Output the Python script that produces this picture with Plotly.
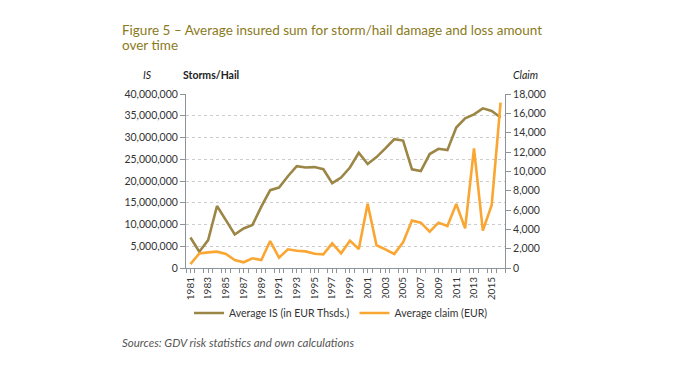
import plotly.graph_objects as go

years = list(range(1981, 2017))
avg_is = [7.0e6, 3.75e6, 6.4e6, 14.25e6, 11.0e6, 7.7e6, 9.1e6, 9.9e6, 14.1e6, 17.9e6,
          18.5e6, 21.1e6, 23.4e6, 23.1e6, 23.2e6, 22.7e6, 19.5e6, 20.8e6, 23.1e6, 26.5e6,
          23.9e6, 25.5e6, 27.5e6, 29.6e6, 29.3e6, 22.7e6, 22.3e6, 26.2e6, 27.4e6, 27.1e6,
          32.3e6, 34.4e6, 35.3e6, 36.7e6, 36.1e6, 34.6e6]
avg_claim = [400, 1500, 1620, 1690, 1450, 830, 590, 1000, 830, 2790,
             1070, 1930, 1790, 1720, 1480, 1410, 2550, 1520, 2830, 1970,
             6650, 2350, 1930, 1450, 2660, 4900, 4690, 3760, 4690, 4340,
             6620, 4100, 12380, 3860, 6520, 17100]
odd_years = [y for y in years if y % 2 == 1]
left_ticks = list(range(0, 40000001, 5000000))
right_ticks = list(range(0, 18001, 2000))

BROWN = "#9C8646"
ORANGE = "#F9A632"
FONT = "Lato, 'Open Sans', sans-serif"
AX = "#8C9399"

fig = go.Figure()
fig.add_trace(go.Scatter(x=years, y=avg_is, mode="lines", name="Average IS (in EUR Thsds.)",
                         line=dict(color=BROWN, width=2.6), yaxis="y"))
fig.add_trace(go.Scatter(x=years, y=avg_claim, mode="lines", name="Average claim (EUR)",
                         line=dict(color=ORANGE, width=2.6), yaxis="y2"))

# page has an 8px body margin; figure sized to fill the rest of the window
fig.update_layout(
    width=666, height=372,
    margin=dict(l=178, r=169, t=86, b=112),
    paper_bgcolor="white", plot_bgcolor="white",
    font=dict(family=FONT, size=10, color="#333333"),
    showlegend=True,
    legend=dict(orientation="h", x=0.486, xanchor="center", y=-0.175, yanchor="top",
                font=dict(size=10.5, color="#333333"), itemwidth=30, tracegroupgap=0),
    xaxis=dict(range=[1980.5, 2016.5], tickvals=odd_years, ticktext=[str(y) for y in odd_years],
               tickangle=-90, showgrid=False, showline=True, linecolor=AX, linewidth=1,
               ticks="outside", ticklen=4, tickcolor=AX,
               minor=dict(tickvals=[y + 0.5 for y in range(1980, 2017)], ticks="outside",
                          ticklen=4, tickcolor=AX),
               tickfont=dict(size=10), zeroline=False, automargin=False),
    yaxis=dict(range=[0, 40000000], tickvals=left_ticks, tickformat=",", showgrid=True,
               gridcolor="#CCCCCC", griddash="dot", showline=True, linecolor=AX,
               ticks="outside", ticklen=5, tickcolor=AX, zeroline=False,
               tickfont=dict(size=10.5), automargin=False),
    yaxis2=dict(range=[0, 18000], tickvals=right_ticks, tickformat=",", overlaying="y",
                side="right", showgrid=False, showline=True, linecolor=AX,
                ticks="outside", ticklen=5, tickcolor=AX, zeroline=False,
                tickfont=dict(size=10.5), automargin=False),
)

# (text, x_px on page, y_px from page bottom, xanchor, font)
TITLE_F = dict(size=13.5, color="#8B7A1C")
LBL_F = dict(size=10.5, color="#222222")
ann = [
    ("Figure 5 – Average insured sum for storm/hail damage and loss amount", 120, 350, "left", TITLE_F),
    ("over time", 120, 335, "left", TITLE_F),
    ("<i>IS</i>", 147, 305, "center", LBL_F),
    ("<b>Storms/Hail</b>", 211, 305, "center", LBL_F),
    ("<i>Claim</i>", 525, 305, "center", LBL_F),
    ("<i>Sources: GDV risk statistics and own calculations</i>", 120, 38, "left",
     dict(size=11.5, color="#555555")),
]
for text, x_px, y_px, xa, f in ann:
    fig.add_annotation(text=text, x=(x_px - 186) / 319, y=(y_px - 112) / 174,
                       xref="paper", yref="paper", showarrow=False, xanchor=xa,
                       yanchor="middle", align="left", font=f)

fig.write_html("out.html")
